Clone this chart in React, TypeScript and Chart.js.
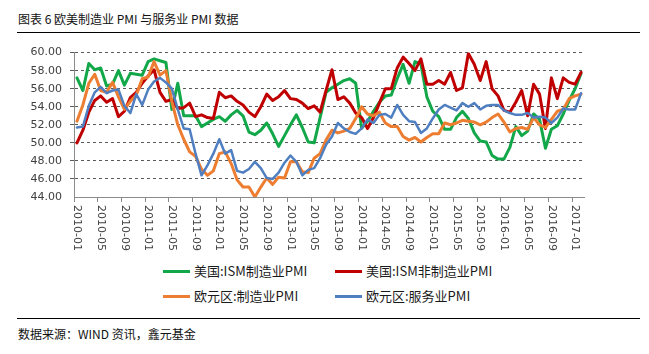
import React, { useEffect, useRef } from 'react';
import { Chart, registerables } from 'chart.js';

Chart.register(...registerables);

// ---- categories (monthly, 2010-01 .. 2017-02) ----
const months: string[] = [];
for (let y = 2010; y <= 2017; y++) {
  for (let m = 1; m <= 12; m++) {
    if (y === 2017 && m > 2) break;
    months.push(`${y}-${m < 10 ? '0' + m : m}`);
  }
}

const yTicks = [44, 46, 48, 50, 52, 54, 56, 58, 60];

const seriesNames = ['美国:ISM制造业PMI', '美国:ISM非制造业PMI', '欧元区:制造业PMI', '欧元区:服务业PMI'];
const seriesColors = ['#12A84A', '#C00000', '#ED7D31', '#4F7FC0'];

const usIsmMfg = [
  57.2, 55.8, 58.8, 58.1, 58.3, 56.3, 56.5, 58.0, 56.4, 57.7, 57.6, 57.5,
  59.0, 59.3, 59.1, 58.9, 53.7, 56.6, 53.0, 53.0, 53.0, 51.8, 52.2, 52.6,
  52.9, 52.4, 53.1, 53.6, 53.0, 51.2, 50.9, 51.4, 52.2, 51.0, 49.6, 50.8,
  52.0, 53.1, 51.7, 50.1, 50.0, 52.8, 55.6, 56.1, 56.5, 56.9, 57.1, 56.6,
  51.6, 52.4, 53.5, 54.5, 55.2, 55.3, 57.1, 58.7, 56.6, 59.0, 58.7, 55.1,
  53.5, 52.9, 51.5, 51.5, 52.8, 53.5, 52.7, 51.1, 50.2, 50.1, 48.6, 48.2,
  48.2, 49.5, 51.8, 50.8, 51.3, 53.2, 52.6, 49.4, 51.5, 51.9, 53.2, 54.7,
  56.0, 57.7,
];

const usIsmNonMfg = [
  50.0, 51.4, 53.4, 54.7, 55.2, 54.5, 54.9, 52.9, 53.5, 55.0, 55.6, 56.6,
  57.4, 58.1, 55.6, 54.6, 54.8, 53.8, 53.9, 54.4, 52.9, 53.1, 52.8, 52.7,
  55.6, 55.0, 55.2, 54.6, 54.2, 53.4, 52.9, 54.0, 55.4, 54.7, 55.1, 55.8,
  54.9, 54.8, 54.4, 53.8, 54.1, 53.4, 55.8, 58.1, 54.8, 55.1, 54.4, 53.3,
  52.8, 51.6, 52.8, 54.4, 56.0, 56.0, 58.3, 59.5, 58.8, 58.0, 59.3, 56.5,
  56.5, 56.9, 56.5, 57.8, 55.8, 56.1, 59.9, 58.7, 56.9, 59.0, 56.0, 55.2,
  53.6, 53.4, 54.5, 55.8, 53.0, 56.5, 55.4, 51.6, 57.2, 54.9, 57.2, 56.7,
  56.5, 57.8,
];

const euroMfg = [
  52.4, 54.2, 56.6, 57.6, 55.8, 55.6, 56.7, 55.1, 53.7, 54.6, 55.3, 57.1,
  57.3, 59.0, 57.5, 58.0, 54.6, 52.0, 50.4, 49.0, 48.5, 47.1, 46.4, 46.9,
  48.8, 49.0, 47.7, 45.9, 45.1, 45.1, 44.0, 45.1, 46.1, 45.4, 46.2, 46.1,
  47.9, 47.9, 46.8, 46.7, 48.3, 48.8, 50.3, 51.4, 51.1, 51.3, 51.6, 52.7,
  54.0, 53.2, 53.0, 53.4, 52.2, 51.8, 51.8, 50.7, 50.3, 50.6, 50.1, 50.6,
  51.0, 51.0, 52.2, 52.0, 52.2, 52.5, 52.4, 52.3, 52.0, 52.3, 52.8, 53.2,
  52.3, 51.2, 51.6, 51.7, 51.5, 52.8, 52.0, 51.7, 52.6, 53.5, 53.7, 54.9,
  55.2, 55.4,
];

const euroServices = [
  51.7, 51.8, 54.1, 55.6, 56.2, 55.5, 55.8, 55.9, 54.1, 53.3, 55.4, 54.2,
  55.9, 56.8, 57.2, 56.7, 56.0, 53.7, 51.6, 51.5, 48.8, 46.4, 47.5, 48.8,
  50.4, 48.8, 49.2, 46.9, 46.7, 47.1, 47.9, 47.2, 46.1, 46.0, 46.7, 47.8,
  48.6, 47.9, 46.4, 47.0, 47.2, 48.3, 49.8, 50.7, 52.2, 51.6, 51.2, 51.0,
  51.6, 52.6, 52.2, 53.1, 53.2, 52.8, 54.2, 53.1, 52.4, 52.3, 51.1, 51.6,
  52.7, 53.7, 54.2, 53.9, 53.6, 54.4, 54.0, 54.4, 53.7, 54.1, 54.2, 54.2,
  53.6, 53.3, 53.1, 53.1, 53.3, 52.8, 52.9, 52.8, 52.2, 52.8, 53.8, 53.7,
  53.7, 55.5,
];

const seriesData = [usIsmMfg, usIsmNonMfg, euroMfg, euroServices];
const seriesWidths = [3, 3, 3, 2.5];

const CJK = '"Noto Sans CJK SC", "Noto Sans", sans-serif';
const AXIS_FONT = '"DejaVu Sans", Verdana, sans-serif';

const rotatedXLabels = {
  id: 'rotatedXLabels',
  afterDraw(chart: any) {
    const xs = chart.scales.x;
    const ctx = chart.ctx;
    ctx.save();
    ctx.font = `11px ${AXIS_FONT}`;
    ctx.fillStyle = '#404040';
    ctx.textAlign = 'left';
    ctx.textBaseline = 'middle';
    const top = xs.top + 8;
    months.forEach((lab, i) => {
      if (i % 4 !== 0) return;
      const px = xs.getPixelForValue(i);
      ctx.save();
      ctx.translate(px, top);
      ctx.rotate(Math.PI / 2);
      ctx.fillText(lab, 0, 0);
      ctx.restore();
    });
    ctx.restore();
  },
};

function PmiChart() {
  const ref = useRef<HTMLCanvasElement | null>(null);
  useEffect(() => {
    if (!ref.current) return;
    const chart = new Chart(ref.current, {
      type: 'line',
      data: {
        labels: months,
        datasets: seriesData.map((d, i) => ({
          label: seriesNames[i],
          data: d,
          borderColor: seriesColors[i],
          backgroundColor: seriesColors[i],
          borderWidth: seriesWidths[i],
          pointRadius: 0,
          tension: 0,
          fill: false,
          order: 4 - i,
          borderJoinStyle: 'round' as const,
          borderCapStyle: 'round' as const,
        })),
      },
      options: {
        responsive: false,
        maintainAspectRatio: false,
        animation: false,
        devicePixelRatio: 1,
        layout: { padding: { top: 11, right: 16, bottom: 2, left: 0 } },
        plugins: {
          legend: { display: false },
          tooltip: { enabled: false },
        },
        scales: {
          x: {
            type: 'category',
            offset: true,
            grid: {
              offset: true,
              drawOnChartArea: false,
              drawTicks: true,
              tickLength: 5,
              color: (c: any) => (c.index !== undefined && c.index % 4 === 0 ? '#8c8c8c' : 'rgba(0,0,0,0)'),
            },
            border: { display: true, color: '#8c8c8c', width: 1 },
            ticks: { display: false, autoSkip: false },
            afterFit: (s: any) => { s.height = 60; },
          },
          y: {
            min: yTicks[0],
            max: yTicks[yTicks.length - 1],
            afterBuildTicks: (s: any) => { s.ticks = yTicks.map((v) => ({ value: v })); },
            ticks: {
              callback: (v: any) => Number(v).toFixed(2),
              font: { family: AXIS_FONT, size: 11 },
              color: '#404040',
              padding: 8,
            },
            grid: {
              color: (c: any) => (c.tick && c.tick.value === yTicks[0] ? 'rgba(0,0,0,0)' : '#5a5a5a'),
              lineWidth: 1,
              drawTicks: true,
              tickLength: 4,
            },
            border: { display: true, color: '#8c8c8c', width: 1, dash: [3, 3] },
            afterFit: (s: any) => { s.width = 74; },
          },
        },
      },
      plugins: [rotatedXLabels],
    });
    return () => chart.destroy();
  }, []);
  return (
    <canvas
      ref={ref}
      width={600}
      height={221}
      style={{ position: 'absolute', left: 0, top: 38, width: 600, height: 221 }}
    />
  );
}

export default function App() {
  const legendPos = [
    { x: 163, y: 271 },
    { x: 335, y: 271 },
    { x: 163, y: 296 },
    { x: 335, y: 296 },
  ];
  return (
    <div
      style={{
        position: 'absolute',
        left: 0,
        top: 0,
        width: 649,
        height: 354,
        background: '#ffffff',
        overflow: 'hidden',
      }}
    >
      <div
        style={{
          position: 'absolute',
          left: 18,
          top: 11,
          fontFamily: CJK,
          fontSize: 12,
          lineHeight: '16px',
          color: '#111',
          whiteSpace: 'nowrap',
        }}
      >
        图表 6 欧美制造业 PMI 与服务业 PMI 数据
      </div>
      <div style={{ position: 'absolute', left: 17, top: 32, width: 623, height: 1, background: '#000' }} />
      <PmiChart />
      {seriesNames.map((name, i) => (
        <React.Fragment key={name}>
          <div
            style={{
              position: 'absolute',
              left: legendPos[i].x,
              top: legendPos[i].y - 1,
              width: 27,
              height: 3,
              background: seriesColors[i],
            }}
          />
          <div
            style={{
              position: 'absolute',
              left: legendPos[i].x + 31,
              top: legendPos[i].y - 9,
              fontFamily: CJK,
              fontSize: 13,
              lineHeight: '18px',
              color: '#1a1a1a',
              whiteSpace: 'nowrap',
            }}
          >
            {name}
          </div>
        </React.Fragment>
      ))}
      <div style={{ position: 'absolute', left: 17, top: 318, width: 623, height: 1, background: '#000' }} />
      <div
        style={{
          position: 'absolute',
          left: 18,
          top: 326,
          fontFamily: CJK,
          fontSize: 12,
          lineHeight: '16px',
          color: '#111',
          whiteSpace: 'nowrap',
        }}
      >
        数据来源：WIND 资讯，鑫元基金
      </div>
    </div>
  );
}
